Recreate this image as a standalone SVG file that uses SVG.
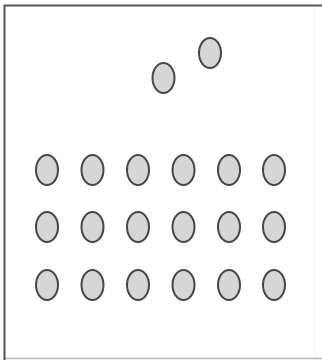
<svg xmlns="http://www.w3.org/2000/svg" width="322" height="360" viewBox="0 0 322 360">
<style>
.n ellipse{fill:#d6d6d6;stroke:#474747;stroke-width:2}
</style>
<rect width="322" height="360" fill="#ffffff"/>
<g id="frame">
<line x1="314.5" y1="7" x2="314.5" y2="357" stroke="#f0f0f0" stroke-width="1"/>
<line x1="5" y1="358.5" x2="322" y2="358.5" stroke="#b8b8b8" stroke-width="1.5"/>
<path d="M4.5,360 V5.5 H322" fill="none" stroke="#555555" stroke-width="2"/>
</g>
<g id="connectors"></g>
<g id="top1" class="n"><ellipse cx="163.5" cy="78" rx="11" ry="15"/></g>
<g id="top2" class="n"><ellipse cx="210" cy="53" rx="11" ry="15"/></g>
<g id="r1c1" class="n"><ellipse cx="47" cy="170" rx="11" ry="15"/></g>
<g id="r1c2" class="n"><ellipse cx="92.5" cy="170" rx="11" ry="15"/></g>
<g id="r1c3" class="n"><ellipse cx="138" cy="170" rx="11" ry="15"/></g>
<g id="r1c4" class="n"><ellipse cx="183.5" cy="170" rx="11" ry="15"/></g>
<g id="r1c5" class="n"><ellipse cx="229" cy="170" rx="11" ry="15"/></g>
<g id="r1c6" class="n"><ellipse cx="274" cy="170" rx="11" ry="15"/></g>
<g id="r2c1" class="n"><ellipse cx="47" cy="227" rx="11" ry="15"/></g>
<g id="r2c2" class="n"><ellipse cx="92.5" cy="227" rx="11" ry="15"/></g>
<g id="r2c3" class="n"><ellipse cx="138" cy="227" rx="11" ry="15"/></g>
<g id="r2c4" class="n"><ellipse cx="183.5" cy="227" rx="11" ry="15"/></g>
<g id="r2c5" class="n"><ellipse cx="229" cy="227" rx="11" ry="15"/></g>
<g id="r2c6" class="n"><ellipse cx="274" cy="227" rx="11" ry="15"/></g>
<g id="r3c1" class="n"><ellipse cx="47" cy="285" rx="11" ry="15"/></g>
<g id="r3c2" class="n"><ellipse cx="92.5" cy="285" rx="11" ry="15"/></g>
<g id="r3c3" class="n"><ellipse cx="138" cy="285" rx="11" ry="15"/></g>
<g id="r3c4" class="n"><ellipse cx="183.5" cy="285" rx="11" ry="15"/></g>
<g id="r3c5" class="n"><ellipse cx="229" cy="285" rx="11" ry="15"/></g>
<g id="r3c6" class="n"><ellipse cx="274" cy="285" rx="11" ry="15"/></g>
</svg>
